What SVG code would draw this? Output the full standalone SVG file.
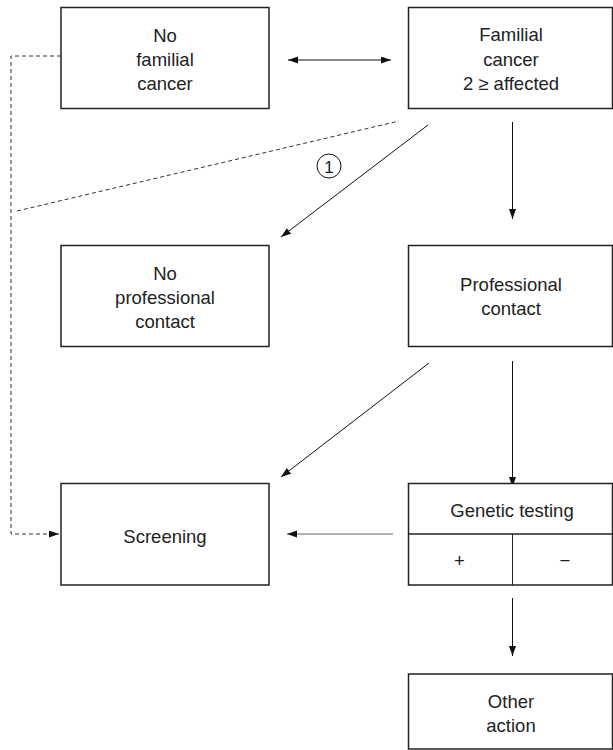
<svg xmlns="http://www.w3.org/2000/svg" width="613" height="750" viewBox="0 0 613 750">
<style>
.box{fill:#fff;stroke:#222;stroke-width:1.5}
.t{font-family:"Liberation Sans",Arial,sans-serif;font-size:18.5px;fill:#222;text-anchor:middle}
.c{fill:none;stroke:#111;stroke-width:1}
.d{fill:none;stroke:#333;stroke-width:1;stroke-dasharray:4 3}
</style>
<defs>
<marker id="ah" markerUnits="userSpaceOnUse" markerWidth="11" markerHeight="8" refX="10" refY="3.5" orient="auto-start-reverse">
<path d="M0,0 L10,3.5 L0,7 z" fill="#111"/>
</marker>
</defs>
<rect width="613" height="750" fill="#fff"/>
<g id="connectors">
<line class="c" x1="288" y1="60" x2="391" y2="60" marker-start="url(#ah)" marker-end="url(#ah)"/>
<polyline class="d" points="61,56 11,56 11,534 59,534" marker-end="url(#ah)"/>
<line class="d" x1="17" y1="211" x2="399" y2="121"/>
<line class="c" x1="428" y1="125" x2="281" y2="237" marker-end="url(#ah)"/>
<line class="c" x1="512.5" y1="122" x2="512.5" y2="219" marker-end="url(#ah)"/>
<line class="c" x1="429" y1="363" x2="281" y2="477" marker-end="url(#ah)"/>
<line class="c" x1="512.5" y1="361" x2="512.5" y2="487" marker-end="url(#ah)"/>
<line class="c" style="stroke:#666" x1="393" y1="534" x2="287" y2="534" marker-end="url(#ah)"/>
<line class="c" x1="512.5" y1="598" x2="512.5" y2="656" marker-end="url(#ah)"/>
<g id="label1">
<circle cx="329" cy="166" r="12" fill="#fff" stroke="#111" stroke-width="1"/>
<text class="t" x="329" y="172.5" style="font-size:17px">1</text>
</g>
</g>
<g id="no-familial">
<rect class="box" x="61" y="7.5" width="208" height="101"/>
<text class="t" x="165" y="41.5">No</text>
<text class="t" x="165" y="66">familial</text>
<text class="t" x="165" y="90">cancer</text>
</g>
<g id="familial">
<rect class="box" x="408.5" y="7.5" width="204" height="101"/>
<text class="t" x="511" y="41">Familial</text>
<text class="t" x="511" y="65.5">cancer</text>
<text class="t" x="511" y="89.5">2 ≥ affected</text>
</g>
<g id="no-professional">
<rect class="box" x="61" y="245.5" width="208" height="101"/>
<text class="t" x="165" y="280">No</text>
<text class="t" x="165" y="304">professional</text>
<text class="t" x="165" y="328">contact</text>
</g>
<g id="professional">
<rect class="box" x="408.5" y="245.5" width="204" height="101"/>
<text class="t" x="511" y="291">Professional</text>
<text class="t" x="511" y="315">contact</text>
</g>
<g id="screening">
<rect class="box" x="61" y="483.5" width="208" height="101.5"/>
<text class="t" x="165" y="542.5">Screening</text>
</g>
<g id="genetic">
<rect class="box" x="408.5" y="483.5" width="204" height="101.5"/>
<line x1="408.5" y1="534" x2="612.5" y2="534" stroke="#222" stroke-width="1.5"/>
<line x1="512.5" y1="534" x2="512.5" y2="585" stroke="#222" stroke-width="1"/>
<text class="t" x="512" y="517">Genetic testing</text>
<text class="t" x="459.5" y="567">+</text>
<text class="t" x="565" y="567">−</text>
</g>
<g id="other">
<rect class="box" x="408.5" y="674" width="204" height="75"/>
<text class="t" x="511" y="708">Other</text>
<text class="t" x="511" y="732">action</text>
</g>
</svg>
